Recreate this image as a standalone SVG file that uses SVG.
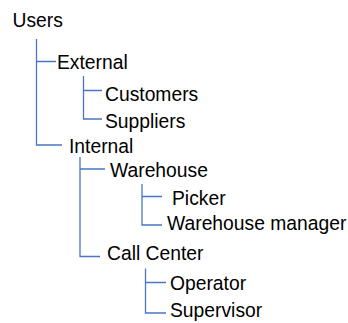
<svg xmlns="http://www.w3.org/2000/svg" width="348" height="323" viewBox="0 0 348 323">
<style>
text{font-family:"Liberation Sans",Arial,sans-serif;font-size:19.3px;fill:#000}
.c{fill:none;stroke:#4a76c6;stroke-width:1.3}
</style>
<rect width="348" height="323" fill="#fff"/>
<g id="connectors">
<path class="c" d="M36.5,39 V145 H62 M36.5,61.5 H56"/>
<path class="c" d="M83.5,76 V119 H102 M83.5,90.5 H102"/>
<path class="c" d="M80,157 V256.5 H100 M80,169 H105"/>
<path class="c" d="M142,184 V225 H162 M142,196.5 H162"/>
<path class="c" d="M145.5,268.5 V313 H166 M145.5,282.5 H166"/>
</g>
<g id="users"><text x="12.5" y="26.7">Users</text></g>
<g id="external"><text x="57" y="69.3">External</text></g>
<g id="customers"><text x="105" y="101">Customers</text></g>
<g id="suppliers"><text x="105" y="127.5">Suppliers</text></g>
<g id="internal"><text x="69" y="153.3">Internal</text></g>
<g id="warehouse"><text x="110" y="177.3">Warehouse</text></g>
<g id="picker"><text x="172" y="205">Picker</text></g>
<g id="warehouse-manager"><text x="167" y="230">Warehouse manager</text></g>
<g id="call-center"><text x="107" y="260">Call Center</text></g>
<g id="operator"><text x="170" y="290">Operator</text></g>
<g id="supervisor"><text x="170" y="316.7">Supervisor</text></g>
</svg>
